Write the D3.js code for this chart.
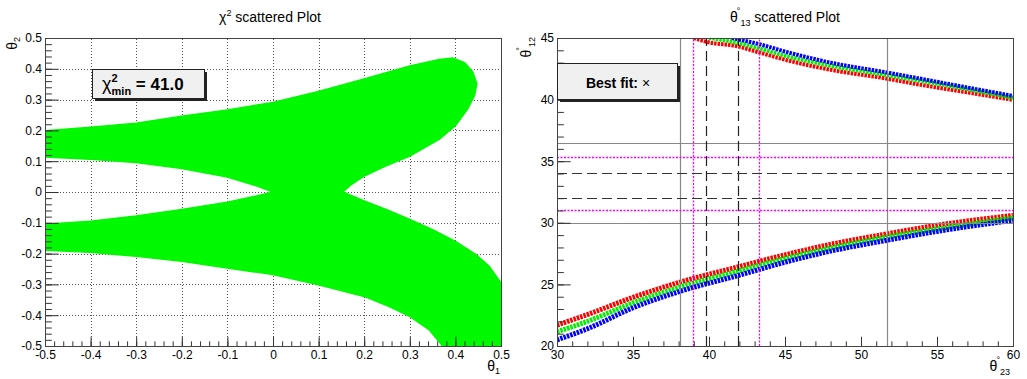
<!DOCTYPE html>
<html>
<head>
<meta charset="utf-8">
<script src="https://cdn.jsdelivr.net/npm/d3@7"></script>
<style>
  body { margin: 0; background: #fff; }
  svg { font-family: "Liberation Sans", Arial, sans-serif; }
  .tick text { font-size: 12px; fill: #000; }
  .tick line { stroke: #333; }
</style>
</head>
<body>
<div id="chart"></div>
<script>
// left panel: chi^2 region outline (theta1, theta2)
const upperTop = [[-0.5,0.199],[-0.4,0.21],[-0.3,0.223],[-0.2,0.246],[-0.1,0.266],[0,0.291],[0.1,0.326],
  [0.2,0.367],[0.3,0.409],[0.365,0.43],[0.394,0.435],[0.42,0.42],[0.438,0.39],[0.447,0.351],[0.442,0.313],
  [0.427,0.27],[0.4,0.215],[0.365,0.172],[0.3,0.117],[0.248,0.085],[0.2,0.052],[0.17,0.022],[0.153,0]];
const lowerRight = [[0.2,-0.029],[0.248,-0.057],[0.3,-0.089],[0.35,-0.122],[0.4,-0.16],[0.445,-0.203],
  [0.474,-0.241],[0.5,-0.296],[0.5,-0.5]];
const lowerBottom = [[0.372,-0.5],[0.343,-0.448],[0.3,-0.404],[0.255,-0.372],[0.2,-0.339],[0.1,-0.301],
  [0,-0.268],[-0.1,-0.247],[-0.2,-0.225],[-0.3,-0.209],[-0.4,-0.196],[-0.5,-0.189]];
const lowerUpper = [[-0.5,-0.105],[-0.4,-0.095],[-0.3,-0.078],[-0.2,-0.057],[-0.1,-0.033],[-0.036,-0.013],[0,0]];
const upperBottom = [[-0.036,0.02],[-0.1,0.049],[-0.2,0.076],[-0.3,0.096],[-0.4,0.106],[-0.5,0.114]];

const leftTicks = [-0.5,-0.4,-0.3,-0.2,-0.1,0,0.1,0.2,0.3,0.4,0.5];
const leftLabels = ["-0.5","-0.4","-0.3","-0.2","-0.1","0","0.1","0.2","0.3","0.4","0.5"];
const chiMin = "41.0";

// right panel: theta12 vs theta23 bands
const redHi = [[39.0,45.0],[39.8,44.7],[41.9,44.32],[43.3,43.83],[45,43.24],[48,42.42],[51.7,41.7],[53.7,41.25],[57,40.58],[60,39.98]];
const greenHi = [[40.0,45.0],[41.9,44.6],[43.3,44.16],[45,43.56],[48,42.75],[51.7,41.99],[57,40.85],[60,40.14]];
const blueHi = [[41.5,45.0],[43.3,44.5],[45,43.9],[48,43.0],[51.7,42.2],[57,40.98],[60,40.3]];
const lowX = [30,32,35,38,42,45,48,51.7,55,60];
const redLo = [21.7,22.55,23.95,25.15,26.45,27.4,28.25,29.1,29.8,30.6];
const greenLo = [21.15,22.0,23.5,24.75,26.1,27.1,27.95,28.85,29.5,30.4];
const blueLo = [20.5,21.4,23.1,24.4,25.75,26.8,27.7,28.58,29.3,30.2];

const vSolid = [38.1, 51.7], vDash = [39.8, 41.9], vDot = [38.95, 43.3];
const hSolid = [30.0, 36.5], hDash = [32.0, 34.05], hDot = [31.0, 35.35];

const rightXTicks = [30,35,40,45,50,55,60];
const rightYTicks = [20,25,30,35,40,45];

const svg = d3.select("#chart").append("svg").attr("width", 1027).attr("height", 379);

function panel(x0, x1, y0, y1, xDom, yDom, xMaj, xLab, yMaj, yLab, nMinX, nMinY, id) {
  const x = d3.scaleLinear().domain(xDom).range([x0, x1]);
  const y = d3.scaleLinear().domain(yDom).range([y1, y0]);
  const g = svg.append("g");
  svg.append("clipPath").attr("id", id).append("rect")
    .attr("x", x0).attr("y", y0).attr("width", x1 - x0).attr("height", y1 - y0);
  const plot = g.append("g").attr("clip-path", `url(#${id})`);
  return {x, y, g, plot, draw() {
    const tx = 0.03 * (y1 - y0), ty = 0.03 * (x1 - x0);
    g.append("g").attr("transform", `translate(0,${y1})`)
      .call(d3.axisBottom(x).tickValues(x.ticks(nMinX)).tickSize(-tx / 2).tickSizeOuter(0).tickFormat(""))
      .call(a => a.select(".domain").remove());
    g.append("g").attr("transform", `translate(0,${y1})`)
      .call(d3.axisBottom(x).tickValues(xMaj).tickSize(-tx).tickSizeOuter(0).tickPadding(4)
        .tickFormat((d, i) => xLab[i]))
      .call(a => a.select(".domain").remove());
    g.append("g").attr("transform", `translate(${x0},0)`)
      .call(d3.axisLeft(y).tickValues(y.ticks(nMinY)).tickSize(-ty / 2).tickSizeOuter(0).tickFormat(""))
      .call(a => a.select(".domain").remove());
    g.append("g").attr("transform", `translate(${x0},0)`)
      .call(d3.axisLeft(y).tickValues(yMaj).tickSize(-ty).tickSizeOuter(0).tickPadding(3)
        .tickFormat((d, i) => yLab[i]))
      .call(a => a.select(".domain").remove());
    g.append("rect").attr("x", x0 + 0.5).attr("y", y0 + 0.5).attr("width", x1 - x0).attr("height", y1 - y0)
      .attr("fill", "none").attr("stroke", "#444");
  }};
}

// ---------- left panel ----------
const L = panel(45, 501, 38, 346, [-0.5, 0.5], [-0.5, 0.5], leftTicks, leftLabels, leftTicks, leftLabels, 50, 50, "clipL");

// dotted grid
L.plot.selectAll(".gx").data(leftTicks.slice(1, -1)).enter().append("line")
  .attr("x1", d => Math.round(L.x(d)) + 0.5).attr("x2", d => Math.round(L.x(d)) + 0.5)
  .attr("y1", L.y(-0.5)).attr("y2", L.y(0.5))
  .attr("stroke", "#555").attr("stroke-dasharray", "1,2");
L.plot.selectAll(".gy").data(leftTicks.slice(1, -1)).enter().append("line")
  .attr("y1", d => Math.round(L.y(d)) + 0.5).attr("y2", d => Math.round(L.y(d)) + 0.5)
  .attr("x1", L.x(-0.5)).attr("x2", L.x(0.5))
  .attr("stroke", "#555").attr("stroke-dasharray", "1,2");

const outline = upperTop.concat(lowerRight, lowerBottom, lowerUpper, upperBottom);
L.plot.append("path")
  .attr("d", d3.line().x(d => L.x(d[0])).y(d => L.y(d[1]))(outline) + "Z")
  .attr("fill", "#00f800").attr("stroke", "#00f800").attr("stroke-width", 1.5);
L.draw();

// legend box
svg.append("rect").attr("x", 95).attr("y", 72).attr("width", 112).attr("height", 29).attr("fill", "#222");
svg.append("rect").attr("x", 92.5).attr("y", 69.5).attr("width", 112).attr("height", 29)
  .attr("fill", "#f0f0f0").attr("stroke", "#222");
const lt = svg.append("text").attr("x", 102).attr("y", 90).attr("font-size", 17).attr("font-weight", "bold");
lt.append("tspan").text("χ").attr("font-weight", "normal").attr("font-size", 18);
lt.append("tspan").text("2").attr("font-size", 11).attr("dy", -8);
lt.append("tspan").text("min").attr("font-size", 11).attr("dx", -6).attr("dy", 13);
lt.append("tspan").text("  =  " + chiMin).attr("dy", -5);

svg.append("text").attr("x", 270).attr("y", 22).attr("text-anchor", "middle").attr("font-size", 14)
  .call(t => { t.append("tspan").text("χ"); t.append("tspan").text("2").attr("font-size", 9).attr("dy", -6);
    t.append("tspan").text(" scattered Plot").attr("dy", 6); });

svg.append("text").attr("transform", "translate(17,37) rotate(-90)").attr("text-anchor", "end").attr("font-size", 14)
  .call(t => { t.append("tspan").text("θ"); t.append("tspan").text("2").attr("font-size", 9).attr("dy", 3); });
svg.append("text").attr("x", 500).attr("y", 371).attr("text-anchor", "end").attr("font-size", 14)
  .call(t => { t.append("tspan").text("θ"); t.append("tspan").text("1").attr("font-size", 9).attr("dy", 3); });

// ---------- right panel ----------
const R = panel(557, 1013, 38, 346, [30, 60], [20, 45], rightXTicks, rightXTicks.map(String),
  rightYTicks, rightYTicks.map(String), 30, 25, "clipR");

const band = d3.line().curve(d3.curveMonotoneX).x(d => R.x(d[0])).y(d => R.y(d[1]));
const bands = [
  [redHi, "#ff0000", 4], [greenHi, "#00ee00", 4], [blueHi, "#0000ff", 4],
  [lowX.map((v, i) => [v, redLo[i]]), "#ff0000", 5],
  [lowX.map((v, i) => [v, greenLo[i]]), "#00ee00", 5],
  [lowX.map((v, i) => [v, blueLo[i]]), "#0000ff", 5]
];
R.plot.selectAll(".band").data(bands).enter().append("path")
  .attr("d", d => band(d[0])).attr("fill", "none").attr("stroke", d => d[1])
  .attr("stroke-width", d => d[2]).attr("stroke-dasharray", "2.5,1");

function vlines(vals, color, dash, w) {
  R.plot.selectAll(null).data(vals).enter().append("line")
    .attr("x1", d => Math.round(R.x(d)) + 0.5).attr("x2", d => Math.round(R.x(d)) + 0.5)
    .attr("y1", R.y(20)).attr("y2", R.y(45))
    .attr("stroke", color).attr("stroke-width", w).attr("stroke-dasharray", dash);
}
function hlines(vals, color, dash, w) {
  R.plot.selectAll(null).data(vals).enter().append("line")
    .attr("y1", d => Math.round(R.y(d)) + 0.5).attr("y2", d => Math.round(R.y(d)) + 0.5)
    .attr("x1", R.x(30)).attr("x2", R.x(60))
    .attr("stroke", color).attr("stroke-width", w).attr("stroke-dasharray", dash);
}
vlines(vSolid, "#888", null, 1.2); hlines(hSolid, "#888", null, 1.2);
vlines(vDot, "#ff00ff", "2,1.5", 1.3); hlines(hDot, "#ff00ff", "2,1.5", 1.3);
vlines(vDash, "#222", "10,5", 1.2); hlines(hDash, "#333", "10,5", 1.2);
R.draw();

svg.append("rect").attr("x", 560).attr("y", 66).attr("width", 120).attr("height", 36).attr("fill", "#222");
svg.append("rect").attr("x", 557.5).attr("y", 63.5).attr("width", 120).attr("height", 36)
  .attr("fill", "#f0f0f0").attr("stroke", "#222");
svg.append("text").attr("x", 618).attr("y", 88).attr("text-anchor", "middle").attr("font-size", 14)
  .call(t => { t.append("tspan").text("Best fit: ").attr("font-weight", "bold"); t.append("tspan").text("×"); });

// theta with degree above and subscript after it
function thetaDeg(t, sub) {
  t.append("tspan").text("θ");
  t.append("tspan").text("°").attr("font-size", 9).attr("dx", -1).attr("dy", -8);
  t.append("tspan").text(sub).attr("font-size", 9).attr("dx", 0).attr("dy", 12);
}
svg.append("text").attr("x", 785).attr("y", 22).attr("text-anchor", "middle").attr("font-size", 14)
  .call(t => { thetaDeg(t, "13"); t.append("tspan").text(" scattered Plot").attr("dy", -4); });
svg.append("text").attr("transform", "translate(531,37) rotate(-90)").attr("text-anchor", "end").attr("font-size", 14)
  .call(t => thetaDeg(t, "12"));
svg.append("text").attr("x", 1010).attr("y", 371).attr("text-anchor", "end").attr("font-size", 14)
  .call(t => thetaDeg(t, "23"));
</script>
</body>
</html>
